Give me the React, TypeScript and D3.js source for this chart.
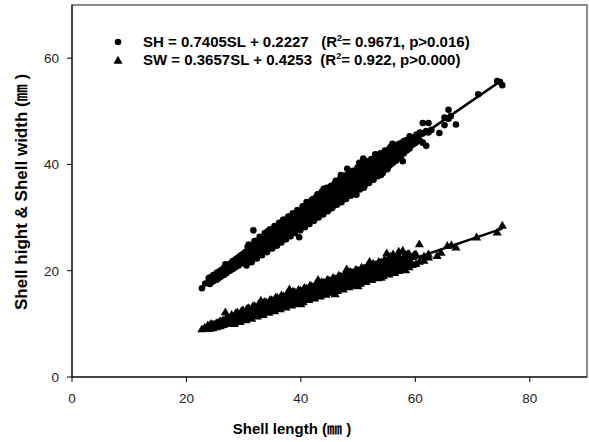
import React, { useEffect } from 'react';
import * as d3 from 'd3';

// shell length (mm) vs shell height
const heightPoints: [number, number][] = [
  [22.7, 16.7], [23.3, 17.6], [23.9, 18.6], [23.9, 17.8], [24.4, 18.3], [25.0, 18.4], [25.0, 19.1],
  [25.6, 18.6], [25.6, 19.7], [26.1, 19.0], [26.1, 20.1], [26.8, 21.2], [26.8, 19.6], [27.3, 20.0],
  [27.3, 20.9], [27.8, 20.3], [27.8, 21.4], [28.3, 20.5], [28.3, 21.7], [28.3, 21.0], [28.8, 21.0],
  [28.8, 22.3], [28.8, 21.6], [29.3, 21.2], [29.3, 22.7], [29.3, 22.0], [29.8, 21.5], [29.8, 23.1],
  [29.8, 22.4], [30.3, 21.8], [30.3, 23.5], [30.3, 22.7], [30.7, 22.1], [30.7, 23.8], [30.7, 23.0],
  [30.7, 24.5], [31.2, 22.4], [31.2, 24.1], [31.2, 23.4], [31.7, 27.6], [31.7, 22.8], [31.7, 24.6],
  [31.7, 23.7], [32.1, 23.1], [32.1, 24.9], [32.1, 24.0], [32.1, 25.6], [32.6, 23.4], [32.6, 25.2],
  [32.6, 24.4], [33.0, 23.7], [33.0, 25.6], [33.0, 24.7], [33.0, 26.0], [33.5, 24.1], [33.5, 25.9],
  [33.5, 25.0], [33.9, 24.3], [33.9, 26.3], [33.9, 25.4], [33.9, 26.9], [34.4, 24.7], [34.4, 26.6],
  [34.4, 25.7], [34.8, 25.0], [34.8, 27.0], [34.8, 26.0], [34.8, 27.6], [35.2, 25.2], [35.2, 27.3],
  [35.2, 26.3], [35.6, 25.5], [35.6, 27.6], [35.6, 26.6], [35.6, 28.2], [36.0, 25.8], [36.0, 27.9],
  [36.0, 26.9], [36.4, 26.0], [36.4, 28.3], [36.4, 27.2], [36.4, 28.8], [36.8, 26.4], [36.8, 28.5],
  [36.8, 27.5], [37.2, 26.6], [37.2, 28.9], [37.2, 27.8], [37.2, 29.4], [37.6, 27.0], [37.6, 29.2],
  [37.6, 28.1], [38.0, 27.2], [38.0, 29.5], [38.0, 28.4], [38.0, 30.1], [38.4, 27.5], [38.4, 29.8],
  [38.4, 28.7], [38.8, 27.8], [38.8, 30.1], [38.8, 29.0], [38.8, 30.6], [39.2, 28.0], [39.2, 30.4],
  [39.2, 29.3], [39.7, 26.3], [39.7, 28.4], [39.7, 30.8], [39.7, 29.6], [39.7, 31.2], [40.1, 28.6],
  [40.1, 31.1], [40.1, 29.9], [40.5, 29.0], [40.5, 31.4], [40.5, 30.2], [40.5, 31.9], [40.9, 29.2],
  [40.9, 31.7], [40.9, 30.5], [41.3, 29.5], [41.3, 32.1], [41.3, 30.8], [41.3, 32.7], [41.7, 29.8],
  [41.7, 32.4], [41.7, 31.1], [42.1, 30.1], [42.1, 32.7], [42.1, 31.4], [42.1, 33.5], [42.5, 30.3],
  [42.5, 33.0], [42.5, 31.7], [42.9, 30.7], [42.9, 33.3], [42.9, 32.0], [42.9, 34.4], [43.3, 30.9],
  [43.3, 33.6], [43.3, 32.3], [43.7, 31.2], [43.7, 34.0], [43.7, 32.6], [43.7, 34.9], [44.1, 31.5],
  [44.1, 34.3], [44.1, 32.9], [44.5, 31.8], [44.5, 34.6], [44.5, 33.2], [44.5, 35.6], [44.9, 32.0],
  [44.9, 34.9], [44.9, 33.5], [45.3, 32.3], [45.3, 35.2], [45.3, 33.8], [45.3, 36.0], [45.7, 32.6],
  [45.7, 35.5], [45.7, 34.1], [46.1, 32.9], [46.1, 35.9], [46.1, 34.4], [46.1, 36.9], [46.5, 33.1],
  [46.5, 36.2], [46.5, 34.7], [46.9, 33.4], [46.9, 36.5], [46.9, 35.0], [46.9, 37.4], [47.3, 33.7],
  [47.3, 36.8], [47.3, 35.3], [47.7, 34.0], [47.7, 37.1], [47.7, 35.6], [47.7, 37.9], [48.1, 39.2],
  [48.1, 34.3], [48.1, 37.4], [48.1, 35.9], [48.5, 34.6], [48.5, 37.7], [48.5, 36.1], [48.9, 34.8],
  [48.9, 38.0], [48.9, 36.4], [48.9, 38.6], [49.3, 35.1], [49.3, 38.3], [49.3, 36.7], [49.7, 34.3],
  [49.7, 35.4], [49.7, 38.6], [49.7, 37.0], [50.1, 35.7], [50.1, 38.9], [50.1, 37.3], [50.5, 36.0],
  [50.5, 39.2], [50.5, 37.6], [50.5, 39.8], [50.9, 41.1], [50.9, 36.2], [50.9, 39.5], [50.9, 37.9],
  [51.3, 36.5], [51.3, 39.8], [51.3, 38.2], [51.7, 36.8], [51.7, 40.1], [51.7, 38.5], [51.7, 40.6],
  [52.1, 37.1], [52.1, 40.4], [52.1, 38.8], [52.5, 37.4], [52.5, 40.7], [52.5, 39.1], [52.9, 37.7],
  [52.9, 41.0], [52.9, 39.4], [52.9, 40.2], [53.3, 38.0], [53.3, 41.3], [53.3, 39.7], [53.7, 38.3],
  [53.7, 41.5], [53.7, 40.0], [54.1, 38.6], [54.1, 41.8], [54.1, 40.3], [54.5, 38.9], [54.5, 42.1],
  [54.5, 40.6], [54.9, 39.2], [54.9, 42.4], [54.9, 40.9], [55.3, 39.6], [55.3, 42.7], [55.3, 41.2],
  [55.7, 43.3], [55.7, 40.0], [55.7, 41.5], [56.1, 40.3], [56.1, 43.1], [56.1, 41.8], [56.6, 40.7],
  [56.6, 43.5], [56.6, 42.1], [57.0, 41.2], [57.0, 43.8], [57.0, 42.4], [57.5, 41.6], [57.5, 44.0],
  [57.5, 42.8], [58.0, 42.1], [58.0, 44.4], [58.0, 43.2], [58.5, 42.6], [58.5, 44.6], [59.0, 43.0],
  [59.0, 45.3], [59.6, 45.0], [59.6, 43.8], [60.2, 44.2], [60.2, 45.6], [60.8, 44.5], [60.8, 46.0],
  [61.3, 47.8], [61.3, 44.1], [61.3, 45.8], [61.9, 43.5], [61.9, 46.3], [62.3, 46.0], [62.3, 47.8],
  [62.8, 46.5], [64.2, 45.9], [65.1, 47.4], [65.1, 48.8], [65.8, 50.3], [65.8, 48.6], [66.2, 49.1],
  [67.1, 47.5], [71.0, 53.2], [74.3, 55.7], [74.8, 55.5], [75.2, 54.9],
  // between the rows above
  [24.1, 17.5], [24.1, 18.7], [24.7, 18.0], [24.7, 19.2], [25.3, 18.3], [25.3, 19.6], [25.9, 18.8],
  [25.9, 20.0], [26.5, 19.2], [26.5, 20.5], [27.0, 19.5], [27.0, 20.9], [27.6, 20.0], [27.6, 21.3],
  [28.1, 20.3], [28.1, 21.8], [28.6, 20.7], [28.6, 22.1], [29.1, 21.0], [29.1, 22.5], [29.6, 21.4],
  [29.6, 22.9], [30.1, 21.8], [30.1, 23.3], [30.5, 22.1], [30.5, 23.5], [30.5, 21.0], [30.9, 22.4],
  [30.9, 23.8], [30.9, 24.9], [31.4, 22.8], [31.4, 24.2], [31.4, 21.6], [31.9, 23.1], [31.9, 24.6],
  [31.9, 25.6], [32.3, 23.4], [32.3, 24.9], [32.3, 22.3], [32.8, 23.8], [32.8, 25.2], [32.8, 26.4],
  [33.2, 24.1], [33.2, 25.5], [33.2, 22.9], [33.7, 24.5], [33.7, 25.9], [33.7, 27.1], [34.1, 24.8],
  [34.1, 26.2], [34.1, 23.5], [34.6, 25.1], [34.6, 26.6], [34.6, 27.8], [35.0, 25.4], [35.0, 26.9],
  [35.0, 24.2], [35.4, 25.7], [35.4, 27.2], [35.4, 28.4], [35.8, 26.0], [35.8, 27.4], [35.8, 24.7],
  [36.2, 26.3], [36.2, 27.8], [36.2, 29.0], [36.6, 26.6], [36.6, 28.1], [36.6, 25.3], [37.0, 26.9],
  [37.0, 28.4], [37.0, 29.6], [37.4, 27.2], [37.4, 28.6], [37.4, 25.9], [37.8, 27.5], [37.8, 28.9],
  [37.8, 30.2], [38.2, 27.8], [38.2, 29.2], [38.2, 26.5], [38.6, 28.1], [38.6, 29.5], [38.6, 30.8],
  [39.0, 28.4], [39.0, 29.8], [39.0, 27.1], [39.4, 28.7], [39.4, 30.1], [39.4, 31.4], [39.9, 29.0],
  [39.9, 30.5], [39.9, 27.6], [40.3, 29.3], [40.3, 30.8], [40.3, 32.1], [40.7, 29.6], [40.7, 31.1],
  [40.7, 28.2], [41.1, 29.9], [41.1, 31.4], [41.1, 32.7], [41.5, 30.2], [41.5, 31.7], [41.5, 28.8],
  [41.9, 30.5], [41.9, 32.0], [41.9, 33.3], [42.3, 30.8], [42.3, 32.3], [42.3, 29.4], [42.7, 31.1],
  [42.7, 32.6], [42.7, 33.9], [43.1, 31.4], [43.1, 32.9], [43.1, 30.0], [43.5, 31.7], [43.5, 33.2],
  [43.5, 34.5], [43.9, 32.0], [43.9, 33.5], [43.9, 30.6], [44.3, 32.3], [44.3, 33.8], [44.3, 35.1],
  [44.7, 32.6], [44.7, 34.1], [44.7, 31.2], [45.1, 32.9], [45.1, 34.4], [45.1, 35.7], [45.5, 33.2],
  [45.5, 34.7], [45.5, 31.8], [45.9, 33.5], [45.9, 35.0], [45.9, 36.4], [46.3, 33.8], [46.3, 35.3],
  [46.3, 32.4], [46.7, 34.1], [46.7, 35.6], [46.7, 37.0], [47.1, 34.4], [47.1, 35.9], [47.1, 32.9],
  [47.5, 34.6], [47.5, 36.2], [47.5, 37.6], [47.9, 34.9], [47.9, 36.5], [47.9, 33.5], [48.3, 35.2],
  [48.3, 36.8], [48.3, 38.2], [48.7, 35.5], [48.7, 37.1], [48.7, 34.1], [49.1, 35.8], [49.1, 37.4],
  [49.1, 38.8], [49.5, 36.1], [49.5, 37.7], [49.5, 34.7], [49.9, 36.4], [49.9, 38.0], [49.9, 39.4],
  [50.3, 36.7], [50.3, 38.3], [50.3, 35.3], [50.7, 37.0], [50.7, 38.6], [50.7, 40.0], [51.1, 37.3],
  [51.1, 38.9], [51.1, 35.9], [51.5, 37.6], [51.5, 39.2], [51.5, 40.5], [51.9, 37.9], [51.9, 39.5],
  [51.9, 36.5], [52.3, 38.2], [52.3, 39.8], [52.3, 41.0], [52.7, 38.5], [52.7, 40.1], [52.7, 37.1],
  [53.1, 38.8], [53.1, 40.4], [53.1, 41.6], [53.5, 39.1], [53.5, 40.6], [53.5, 37.8], [53.9, 39.4],
  [53.9, 40.9], [53.9, 42.1], [54.3, 39.7], [54.3, 41.2], [54.3, 38.4], [54.7, 40.0], [54.7, 41.5],
  [54.7, 42.6], [55.1, 40.3], [55.1, 41.8], [55.1, 39.1], [55.5, 40.6], [55.5, 42.1], [55.5, 43.0],
  [55.9, 40.9], [55.9, 42.4], [56.4, 41.3], [56.4, 42.8], [56.8, 41.6], [56.8, 43.1], [57.3, 42.0],
  [57.3, 43.4], [57.7, 42.3], [57.7, 43.7], [58.2, 42.8], [58.2, 44.0], [58.8, 43.3], [59.3, 43.6],
  [59.3, 44.7], [59.9, 44.0], [60.5, 45.3],
  // ragged edges of the cloud
  [34.2, 27.4], [36.9, 29.6], [41.0, 32.9], [44.0, 35.4], [47.0, 38.0], [50.2, 40.3], [53.0, 41.9],
  [56.0, 43.9], [36.5, 25.4], [42.0, 29.6], [45.0, 31.6], [51.0, 35.6], [54.0, 38.0], [57.8, 40.6],
];

// shell length (mm) vs shell width
const widthPoints: [number, number][] = [
  [22.7, 8.9], [23.2, 9.2], [23.7, 9.0], [23.7, 9.6], [24.3, 9.9], [24.3, 9.3], [24.9, 9.8], [24.9, 9.4],
  [25.5, 9.5], [25.5, 10.1], [26.0, 9.6], [26.0, 10.4], [26.5, 9.8], [26.5, 10.6], [26.8, 12.1],
  [27.1, 10.0], [27.1, 10.8], [27.1, 11.3], [27.6, 10.2], [27.6, 11.0], [28.1, 10.3], [28.1, 11.2],
  [28.1, 10.8], [28.6, 10.5], [28.6, 11.5], [28.6, 11.9], [29.1, 10.7], [29.1, 11.6], [29.1, 11.1],
  [29.6, 10.9], [29.6, 11.8], [29.6, 12.3], [30.1, 11.0], [30.1, 12.0], [30.1, 11.5], [30.6, 11.2],
  [30.6, 12.3], [30.6, 12.8], [31.1, 11.3], [31.1, 12.5], [31.1, 11.9], [31.6, 11.5], [31.6, 12.7],
  [31.6, 13.2], [32.1, 11.6], [32.1, 12.9], [32.1, 12.2], [32.6, 11.8], [32.6, 13.1], [32.6, 13.6],
  [33.1, 12.0], [33.1, 13.3], [33.1, 12.6], [33.6, 12.1], [33.6, 13.5], [33.6, 14.0], [34.1, 12.3],
  [34.1, 13.7], [34.1, 13.0], [34.6, 12.4], [34.6, 13.9], [34.6, 14.4], [35.1, 12.6], [35.1, 14.1],
  [35.1, 13.3], [35.6, 12.8], [35.6, 14.3], [35.6, 14.9], [36.1, 13.0], [36.1, 14.5], [36.1, 13.7],
  [36.6, 13.1], [36.6, 14.7], [36.6, 15.3], [37.1, 13.3], [37.1, 14.9], [37.1, 14.1], [37.6, 13.5],
  [37.6, 15.1], [37.6, 15.7], [38.1, 13.7], [38.1, 15.3], [38.1, 14.4], [38.6, 13.8], [38.6, 15.5],
  [38.6, 16.0], [39.1, 14.0], [39.1, 15.7], [39.1, 14.8], [39.6, 14.2], [39.6, 15.9], [39.6, 16.3],
  [40.1, 14.3], [40.1, 16.0], [40.1, 15.1], [40.6, 14.5], [40.6, 16.2], [40.6, 16.7], [41.1, 14.7],
  [41.1, 16.4], [41.1, 15.5], [41.6, 14.9], [41.6, 16.6], [41.6, 17.1], [42.1, 15.0], [42.1, 16.8],
  [42.1, 15.9], [42.6, 15.2], [42.6, 17.0], [42.6, 17.4], [43.1, 15.4], [43.1, 17.2], [43.1, 16.2],
  [43.6, 15.5], [43.6, 17.4], [43.6, 17.8], [44.1, 15.7], [44.1, 17.6], [44.1, 16.6], [44.6, 15.9],
  [44.6, 17.8], [44.6, 18.2], [45.1, 16.0], [45.1, 17.9], [45.1, 16.9], [45.6, 16.2], [45.6, 18.1],
  [45.6, 18.6], [46.1, 16.4], [46.1, 18.3], [46.1, 17.3], [46.6, 16.5], [46.6, 18.5], [46.6, 19.0],
  [47.1, 16.7], [47.1, 18.7], [47.1, 17.7], [47.6, 16.9], [47.6, 18.9], [47.6, 19.3], [48.1, 17.0],
  [48.1, 19.1], [48.1, 18.0], [48.6, 17.2], [48.6, 19.3], [48.6, 19.7], [49.1, 17.4], [49.1, 19.5],
  [49.1, 18.4], [49.6, 17.5], [49.6, 19.7], [49.6, 20.1], [50.1, 17.7], [50.1, 19.9], [50.1, 18.7],
  [50.6, 17.9], [50.6, 20.1], [50.6, 20.5], [51.1, 18.0], [51.1, 20.3], [51.1, 19.1], [51.6, 18.2],
  [51.6, 20.4], [51.6, 20.8], [52.1, 18.4], [52.1, 20.6], [52.1, 19.5], [52.6, 18.6], [52.6, 20.8],
  [52.6, 21.2], [53.1, 18.8], [53.1, 21.0], [53.1, 19.8], [53.6, 19.0], [53.6, 21.2], [53.6, 21.6],
  [54.1, 19.2], [54.1, 21.4], [54.1, 20.2], [54.6, 19.4], [54.6, 21.6], [54.6, 22.0], [55.1, 19.6],
  [55.1, 21.8], [55.1, 20.6], [55.6, 19.8], [55.6, 22.2], [55.6, 22.6], [56.1, 19.7], [56.1, 22.0],
  [56.1, 21.0], [56.1, 23.0], [56.6, 20.0], [56.6, 22.4], [56.6, 21.2], [57.1, 19.9], [57.1, 22.6],
  [57.1, 21.4], [57.1, 23.5], [57.8, 20.3], [57.8, 23.7], [57.8, 22.0], [58.3, 20.0], [58.3, 22.8],
  [58.3, 21.4], [58.9, 20.6], [58.9, 23.1], [58.9, 22.2], [59.5, 21.0], [59.5, 22.5], [60.1, 21.2],
  [60.1, 23.0], [60.7, 24.9], [60.7, 21.6], [61.5, 21.8], [61.5, 22.6], [62.3, 22.4], [62.3, 23.0],
  [63.8, 22.7], [64.5, 23.3], [65.6, 24.6], [66.3, 24.7], [67.1, 24.3], [70.7, 26.2], [74.3, 27.1],
  [75.2, 28.4],
  // between the rows above
  [24.0, 9.0], [24.0, 9.6], [24.6, 9.1], [24.6, 9.8], [25.2, 9.3], [25.2, 10.0], [25.8, 9.5],
  [25.8, 10.3], [26.3, 9.7], [26.3, 10.5], [26.8, 9.9], [26.8, 10.7], [27.4, 10.1], [27.4, 10.9],
  [27.9, 10.2], [27.9, 11.1], [27.9, 11.6], [28.4, 10.4], [28.4, 11.3], [28.4, 9.9], [28.9, 10.6],
  [28.9, 11.5], [28.9, 12.1], [29.4, 10.8], [29.4, 11.7], [29.4, 10.3], [29.9, 10.9], [29.9, 11.9],
  [29.9, 12.5], [30.4, 11.1], [30.4, 12.1], [30.4, 10.6], [30.9, 11.3], [30.9, 12.2], [30.9, 12.9],
  [31.4, 11.5], [31.4, 12.4], [31.4, 10.9], [31.9, 11.7], [31.9, 12.6], [31.9, 13.3], [32.4, 11.9],
  [32.4, 12.8], [32.4, 11.3], [32.9, 12.0], [32.9, 13.0], [32.9, 13.7], [33.4, 12.2], [33.4, 13.2],
  [33.4, 11.6], [33.9, 12.4], [33.9, 13.3], [33.9, 14.0], [34.4, 12.6], [34.4, 13.5], [34.4, 12.0],
  [34.9, 12.8], [34.9, 13.7], [34.9, 14.4], [35.4, 12.9], [35.4, 13.9], [35.4, 12.3], [35.9, 13.1],
  [35.9, 14.1], [35.9, 14.8], [36.4, 13.3], [36.4, 14.3], [36.4, 12.7], [36.9, 13.5], [36.9, 14.4],
  [36.9, 15.1], [37.4, 13.7], [37.4, 14.6], [37.4, 13.0], [37.9, 13.8], [37.9, 14.8], [37.9, 15.5],
  [38.4, 14.0], [38.4, 15.0], [38.4, 13.4], [38.9, 14.2], [38.9, 15.2], [38.9, 15.9], [39.4, 14.4],
  [39.4, 15.4], [39.4, 13.7], [39.9, 14.6], [39.9, 15.5], [39.9, 16.2], [40.4, 14.8], [40.4, 15.7],
  [40.4, 14.0], [40.9, 14.9], [40.9, 15.9], [40.9, 16.6], [41.4, 15.1], [41.4, 16.1], [41.4, 14.4],
  [41.9, 15.3], [41.9, 16.3], [41.9, 17.0], [42.4, 15.5], [42.4, 16.5], [42.4, 14.7], [42.9, 15.7],
  [42.9, 16.6], [42.9, 17.3], [43.4, 15.8], [43.4, 16.8], [43.4, 15.1], [43.9, 16.0], [43.9, 17.0],
  [43.9, 17.7], [44.4, 16.2], [44.4, 17.2], [44.4, 15.4], [44.9, 16.4], [44.9, 17.4], [44.9, 18.1],
  [45.4, 16.6], [45.4, 17.6], [45.4, 15.8], [45.9, 16.8], [45.9, 17.7], [45.9, 18.4], [46.4, 16.9],
  [46.4, 17.9], [46.4, 16.1], [46.9, 17.1], [46.9, 18.1], [46.9, 18.8], [47.4, 17.3], [47.4, 18.3],
  [47.4, 16.4], [47.9, 17.5], [47.9, 18.5], [47.9, 19.2], [48.4, 17.7], [48.4, 18.7], [48.4, 16.8],
  [48.9, 17.8], [48.9, 18.9], [48.9, 19.5], [49.4, 18.0], [49.4, 19.0], [49.4, 17.1], [49.9, 18.2],
  [49.9, 19.2], [49.9, 19.9], [50.4, 18.4], [50.4, 19.4], [50.4, 17.5], [50.9, 18.6], [50.9, 19.6],
  [50.9, 20.3], [51.4, 18.7], [51.4, 19.8], [51.4, 17.8], [51.9, 18.9], [51.9, 20.0], [51.9, 20.6],
  [52.4, 19.1], [52.4, 20.2], [52.4, 18.2], [52.9, 19.3], [52.9, 20.3], [52.9, 21.0], [53.4, 19.5],
  [53.4, 20.5], [53.4, 18.5], [53.9, 19.7], [53.9, 20.7], [53.9, 21.4], [54.4, 19.8], [54.4, 20.9],
  [54.4, 18.9], [54.9, 20.0], [54.9, 21.1], [54.9, 21.8], [55.4, 20.2], [55.4, 21.3], [55.4, 19.2],
  [55.9, 20.4], [55.9, 21.5], [55.9, 22.2], [56.4, 20.6], [56.4, 21.6], [56.4, 19.5], [56.9, 20.8],
  [56.9, 21.8], [56.9, 22.8], [57.4, 21.0], [57.4, 22.0], [57.9, 21.1], [57.9, 22.4], [58.6, 21.5],
  [58.6, 23.0], [59.2, 21.7], [59.8, 22.9],
  // ragged edges of the cloud
  [33.0, 14.3], [38.0, 16.4], [43.0, 18.2], [48.0, 20.2], [52.0, 21.6], [55.0, 23.2],
  [40.0, 13.6], [46.0, 15.5], [50.0, 17.0], [54.0, 18.6],
];

// fitted lines from the legend: [slope, intercept]
const heightFit = [0.7405, 0.2227];
const widthFit = [0.3657, 0.4253];

const xTicks = [0, 20, 40, 60, 80];
const yTicks = [0, 20, 40, 60];

const font = '"Liberation Sans", Arial, "Noto Sans CJK KR", sans-serif';

export default function App() {
  useEffect(() => {
    document.body.style.margin = '0';
  }, []);

  const width = 589;
  const height = 442;
  const margin = { top: 5, right: 2, bottom: 65, left: 72 };

  const x = d3.scaleLinear().domain([0, 90]).range([margin.left, width - margin.right]);
  const y = d3.scaleLinear().domain([0, 70]).range([height - margin.bottom, margin.top]);

  const fitLine = (pts: [number, number][], fit: number[]) => {
    const [x0, x1] = d3.extent(pts, d => d[0]) as [number, number];
    return d3.line<number>()
      .x(d => x(d))
      .y(d => y(fit[0] * d + fit[1]))([x0, x1]);
  };

  const triangle = d3.symbol().type(d3.symbolTriangle).size(36)();
  const x0 = x(0);
  const y0 = y(0);

  return (
    <svg width={width} height={height} style={{ display: 'block', background: '#fff' }} fontFamily={font}>
      {/* frame */}
      <rect x={x0} y={margin.top} width={x(90) - x0} height={y0 - margin.top}
        fill="none" stroke="#666" strokeWidth={1.5} />

      {heightPoints.map((d, i) => (
        <circle key={'h' + i} cx={x(d[0])} cy={y(d[1])} r={3.3} fill="#000" />
      ))}
      {widthPoints.map((d, i) => (
        <path key={'w' + i} d={triangle} transform={`translate(${x(d[0])},${y(d[1])})`} fill="#000" />
      ))}

      <path d={fitLine(heightPoints, heightFit) || ''} stroke="#000" strokeWidth={2.5} fill="none" />
      <path d={fitLine(widthPoints, widthFit) || ''} stroke="#000" strokeWidth={2.5} fill="none" />

      {/* axes */}
      <line x1={x0} x2={x0} y1={margin.top} y2={y0} stroke="#000" />
      <line x1={x0} x2={x(90)} y1={y0} y2={y0} stroke="#000" />
      {xTicks.map(t => (
        <g key={'xt' + t}>
          <line x1={x(t)} x2={x(t)} y1={y0} y2={y0 + 5} stroke="#000" />
          <text x={x(t)} y={y0 + 26} textAnchor="middle" fontSize={13.5} fill="#222">{t}</text>
        </g>
      ))}
      {yTicks.map(t => (
        <g key={'yt' + t}>
          <line x1={x0 - 5} x2={x0} y1={y(t)} y2={y(t)} stroke="#000" />
          <text x={x0 - 13} y={y(t) + 5} textAnchor="end" fontSize={13.5} fill="#222">{t}</text>
        </g>
      ))}

      <text x={292} y={434} textAnchor="middle" fontSize={15} fontWeight="bold">Shell length (㎜ )</text>
      <text transform={`translate(27,192) rotate(-90)`} textAnchor="middle" fontSize={17} fontWeight="bold">
        Shell hight &amp; Shell width (㎜ )
      </text>

      {/* legend */}
      <circle cx={118} cy={42} r={3.3} fill="#000" />
      <path d={triangle} transform="translate(118,61)" fill="#000" />
      <text x={143} y={47} fontSize={15} fontWeight="bold" style={{ whiteSpace: 'pre' }}>
        SH = 0.7405SL + 0.2227   (R<tspan dy={-6} fontSize={9}>2</tspan><tspan dy={6}>= 0.9671, p&gt;0.016)</tspan>
      </text>
      <text x={143} y={65} fontSize={15} fontWeight="bold" style={{ whiteSpace: 'pre' }}>
        SW = 0.3657SL + 0.4253  (R<tspan dy={-6} fontSize={9}>2</tspan><tspan dy={6}>= 0.922, p&gt;0.000)</tspan>
      </text>
    </svg>
  );
}
